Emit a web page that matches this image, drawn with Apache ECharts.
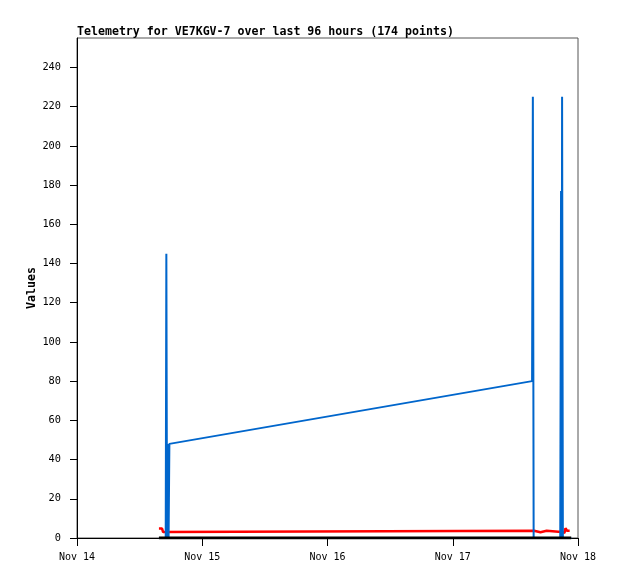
<!DOCTYPE html>
<html>
<head>
<meta charset="utf-8">
<script src="https://cdn.jsdelivr.net/npm/echarts@6/dist/echarts.min.js"></script>
<style>html,body{margin:0;padding:0;background:#fff;}#c{width:618px;height:579px;}</style>
</head>
<body>
<div id="c"></div>
<script>
// Hours since Nov 14 00:00
var xTickLabels = ["Nov 14", "Nov 15", "Nov 16", "Nov 17", "Nov 18"];
var yTickValues = [0, 20, 40, 60, 80, 100, 120, 140, 160, 180, 200, 220, 240];
var titleText = "Telemetry for VE7KGV-7 over last 96 hours (174 points)";
var yAxisName = "Values";

var blueHours  = [15.7, 17.0, 17.12, 17.25, 17.45, 17.55, 17.7, 87.2, 87.35, 87.5, 92.6, 92.75, 92.85, 92.95, 93.1, 94.7];
var blueValues = [0,    0,    145,   0,     48,    0,     48,   80,   225,   0,    0,    177,   0,     225,   0,    0];

var redHours  = [15.7, 16.3, 16.5, 16.8, 87.6, 87.8, 88.8, 89.0, 90.0, 90.2, 92.8, 93.0, 93.4, 93.6, 93.9, 94.4];
var redValues = [4.8,  4.8,  3.0,  3.7,  3.7,  2.9,  2.9,  3.7,  3.7,  3.1,  3.1,  2.6,  2.6,  5.0,  3.7,  3.7];

var blackHours  = [15.7, 94.7];
var blackValues = [0,    0];

function pairs(xs, ys) { return xs.map(function (x, i) { return [x, ys[i]]; }); }

var font = "'DejaVu Sans Mono', monospace";
var chart = echarts.init(document.getElementById('c'), null, {renderer: 'canvas'});
chart.setOption({
  animation: false,
  backgroundColor: '#fff',
  title: {
    text: titleText, left: 77, top: 26, padding: 0,
    textStyle: {fontFamily: font, fontSize: 11.6, fontWeight: 'bold', color: '#000'}
  },
  grid: {left: 77, right: 40, top: 38, bottom: 41, show: true, borderColor: '#555', borderWidth: 1, backgroundColor: 'transparent'},
  xAxis: {
    type: 'value', min: 0, max: 96, interval: 24,
    axisLine: {show: true, lineStyle: {color: '#000', width: 1}},
    axisTick: {show: true, length: 8, lineStyle: {color: '#000'}},
    splitLine: {show: false},
    axisLabel: {
      margin: 14, color: '#000', fontFamily: font, fontSize: 10,
      formatter: function (v) { return xTickLabels[Math.round(v / 24)]; }
    }
  },
  yAxis: {
    type: 'value', min: 0, max: 255, interval: 20,
    name: yAxisName, nameLocation: 'middle', nameGap: 39, nameMoveOverlap: false,
    nameTextStyle: {fontFamily: font, fontSize: 11.6, fontWeight: 'bold', color: '#000'},
    axisLine: {show: true, lineStyle: {color: '#000', width: 1}},
    axisTick: {show: true, length: 7, lineStyle: {color: '#000'}, customValues: yTickValues},
    splitLine: {show: false},
    axisLabel: {
      margin: 16, color: '#000', fontFamily: font, fontSize: 10.3, customValues: yTickValues
    }
  },
  series: [
    {type: 'line', data: pairs(redHours, redValues), showSymbol: false, z: 2,
     lineStyle: {color: '#ff0000', width: 2.5}},
    {type: 'line', data: pairs(blueHours, blueValues), showSymbol: false, z: 3,
     lineStyle: {color: '#0066cc', width: 2}},
    {type: 'line', data: pairs(blackHours, blackValues), showSymbol: false, z: 4,
     lineStyle: {color: '#000000', width: 3}}
  ]
});
</script>
</body>
</html>
